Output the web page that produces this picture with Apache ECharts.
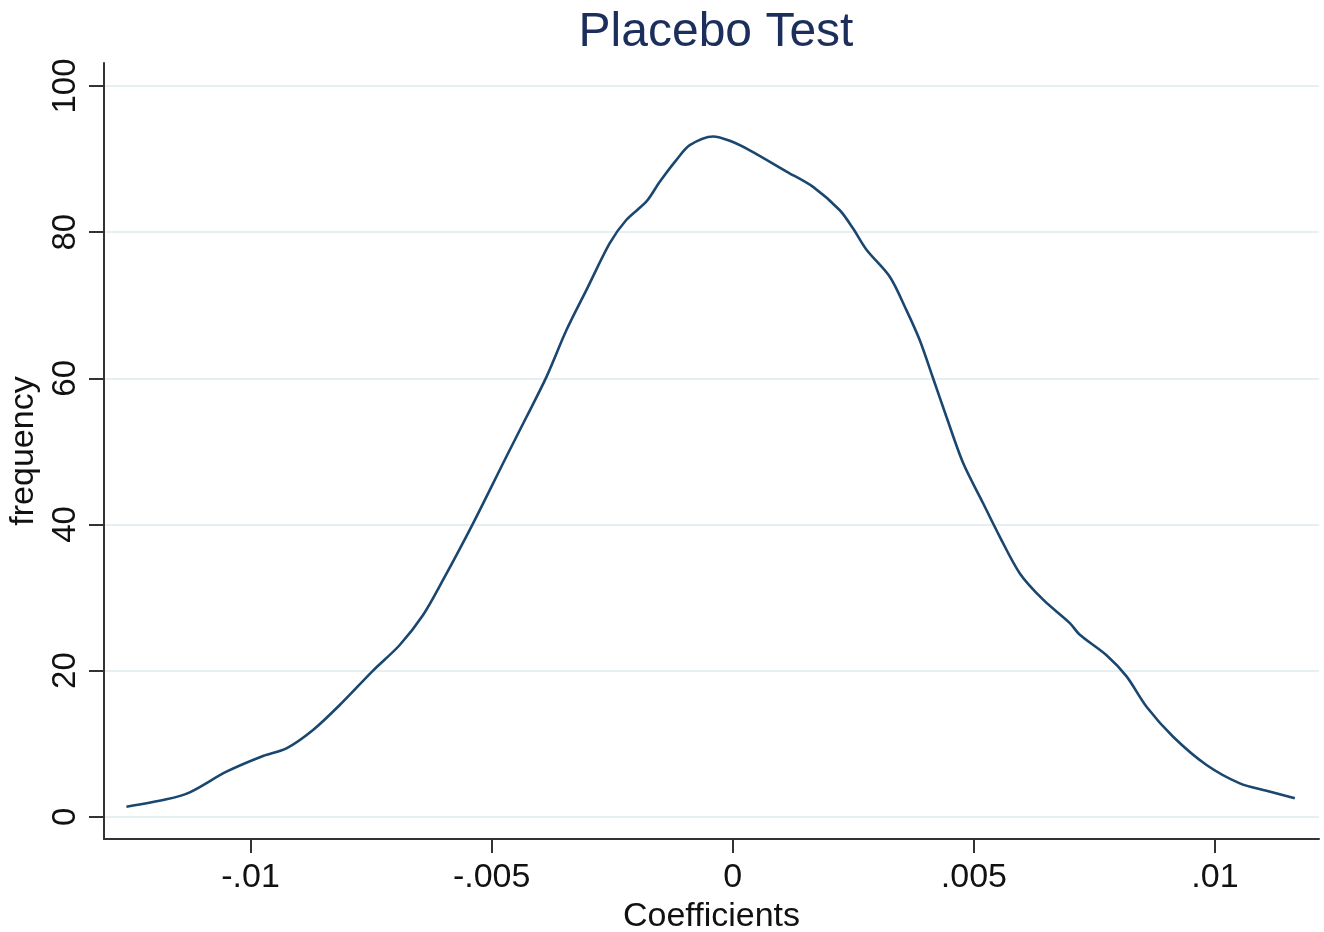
<!DOCTYPE html>
<html>
<head>
<meta charset="utf-8">
<script src="https://cdn.jsdelivr.net/npm/echarts@6/dist/echarts.min.js"></script>
<style>
html,body{margin:0;padding:0;background:#fff;}
#chart{width:1324px;height:932px;}
</style>
</head>
<body>
<div id="chart"></div>
<script>
// Coefficient values (x)
const coefficients = [
  -0.012575, -0.011745, -0.011262, -0.010501, -0.009742, -0.009256, -0.008705, -0.008151,
  -0.007460, -0.006907, -0.006423, -0.006009, -0.005386, -0.004694, -0.004279, -0.003864,
  -0.003449, -0.003034, -0.002551, -0.002205, -0.001790, -0.001514, -0.001168, -0.000892,
  -0.000409, -0.000062, 0.000353, 0.001114, 0.001665, 0.002219, 0.002495, 0.002773,
  0.003256, 0.003603, 0.003878, 0.004154, 0.004432, 0.004777, 0.005191, 0.005538,
  0.005953, 0.006436, 0.006990, 0.007197, 0.007751, 0.008166, 0.008580, 0.009132,
  0.009825, 0.010515, 0.011069, 0.011656
];
// Frequency (density) values
const frequency = [
  1.37, 2.38, 3.34, 6.16, 8.31, 9.36, 11.87, 15.29,
  20.0, 23.5, 27.6, 32.4, 40.15, 49.3, 54.7, 60.2,
  66.6, 72.1, 78.5, 81.7, 84.2, 86.9, 89.9, 91.9,
  93.1, 92.5, 91.2, 88.3, 86.2, 83.0, 80.5, 77.6,
  73.9, 69.3, 65.2, 60.0, 54.7, 48.4, 42.9, 38.3,
  33.3, 29.7, 26.5, 24.9, 22.1, 19.2, 15.05, 10.95,
  7.08, 4.57, 3.56, 2.52
];
const xTickValues = [-0.01, -0.005, 0, 0.005, 0.01];
const xTickLabels = ['-.01', '-.005', '0', '.005', '.01'];
const yTickValues = [0, 20, 40, 60, 80, 100];
const yTickLabels = ['0', '20', '40', '60', '80', '100'];

const seriesData = coefficients.map((c, i) => [c, frequency[i]]);

function labelFor(values, labels, v) {
  for (let i = 0; i < values.length; i++) {
    if (Math.abs(values[i] - v) < 1e-9) return labels[i];
  }
  return '';
}

const chart = echarts.init(document.getElementById('chart'), null, {renderer: 'canvas'});
const font = 'Liberation Sans, Arial, Helvetica, sans-serif';
chart.setOption({
  backgroundColor: '#ffffff',
  animation: false,
  title: {
    text: 'Placebo Test',
    left: 711,
    textAlign: 'center',
    top: 4,
    textStyle: {fontFamily: font, fontSize: 48, fontWeight: 'normal', color: '#1c2f5c'}
  },
  grid: {left: 104, right: 5, top: 63, bottom: 93, containLabel: false, outerBoundsMode: 'none'},
  xAxis: {
    type: 'value',
    min: -0.01304,
    max: 0.012157,
    name: 'Coefficients',
    nameLocation: 'middle',
    nameGap: 56,
    nameTextStyle: {fontFamily: font, fontSize: 34, color: '#111'},
    axisLine: {show: true, onZero: false, lineStyle: {color: '#333', width: 2}},
    axisTick: {show: true, length: 14, customValues: xTickValues, lineStyle: {color: '#333', width: 2}},
    axisLabel: {
      customValues: xTickValues,
      fontFamily: font, fontSize: 34, color: '#111', margin: 22,
      formatter: v => labelFor(xTickValues, xTickLabels, v)
    },
    splitLine: {show: false}
  },
  yAxis: {
    type: 'value',
    min: -3.05,
    max: 103.15,
    name: 'frequency',
    nameLocation: 'middle',
    nameRotate: 90,
    nameGap: 63,
    nameTextStyle: {fontFamily: font, fontSize: 34, color: '#111'},
    axisLine: {show: true, onZero: false, lineStyle: {color: '#333', width: 2}},
    axisTick: {show: true, length: 15, customValues: yTickValues, lineStyle: {color: '#333', width: 2}},
    axisLabel: {
      customValues: yTickValues,
      rotate: 90,
      fontFamily: font, fontSize: 33, color: '#111', margin: 22,
      formatter: v => labelFor(yTickValues, yTickLabels, v)
    },
    splitLine: {show: true, lineStyle: {color: '#e6f0f2', width: 2}}
  },
  series: [{
    type: 'line',
    data: seriesData,
    smooth: 0.3,
    showSymbol: false,
    symbol: 'none',
    lineStyle: {color: '#1a476f', width: 2.6}
  }]
});
</script>
</body>
</html>
